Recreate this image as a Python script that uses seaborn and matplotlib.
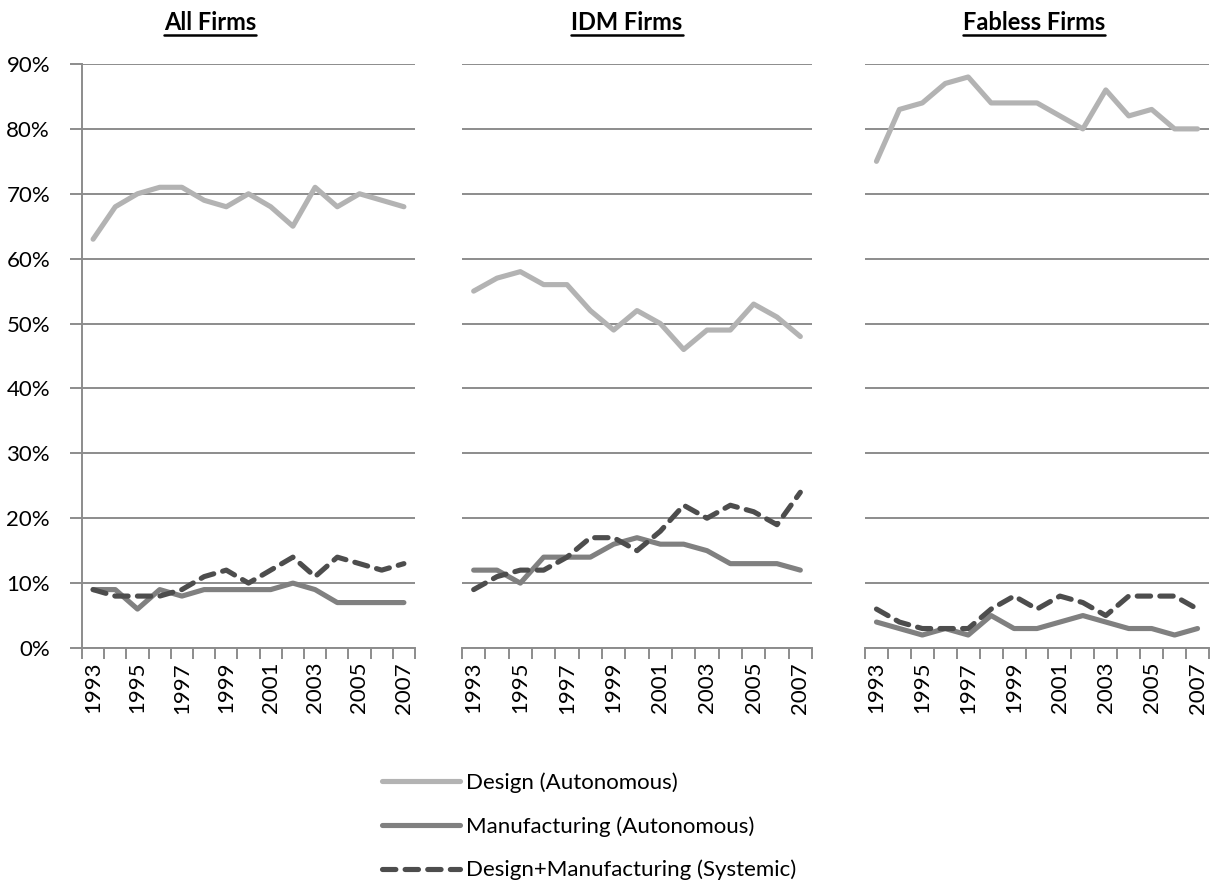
import matplotlib
matplotlib.use("Agg")
import matplotlib.pyplot as plt
import seaborn as sns
import pandas as pd
import numpy as np
from matplotlib.ticker import FixedLocator, FuncFormatter

sns.set_style("white")
plt.rcParams['font.family'] = ['Lato', 'DejaVu Sans']
plt.rcParams['text.color'] = 'black'
plt.rcParams['xtick.labelcolor'] = 'black'
plt.rcParams['ytick.labelcolor'] = 'black'

years = list(range(1993, 2008))
panels = ["All Firms", "IDM Firms", "Fabless Firms"]
series_names = ["Design (Autonomous)", "Manufacturing (Autonomous)", "Design+Manufacturing (Systemic)"]

all_design = [63, 68, 70, 71, 71, 69, 68, 70, 68, 65, 71, 68, 70, 69, 68]
all_manuf = [9, 9, 6, 9, 8, 9, 9, 9, 9, 10, 9, 7, 7, 7, 7]
all_system = [9, 8, 8, 8, 9, 11, 12, 10, 12, 14, 11, 14, 13, 12, 13]

idm_design = [55, 57, 58, 56, 56, 52, 49, 52, 50, 46, 49, 49, 53, 51, 48]
idm_manuf = [12, 12, 10, 14, 14, 14, 16, 17, 16, 16, 15, 13, 13, 13, 12]
idm_system = [9, 11, 12, 12, 14, 17, 17, 15, 18, 22, 20, 22, 21, 19, 24]

fab_design = [75, 83, 84, 87, 88, 84, 84, 84, 82, 80, 86, 82, 83, 80, 80]
fab_manuf = [4, 3, 2, 3, 2, 5, 3, 3, 4, 5, 4, 3, 3, 2, 3]
fab_system = [6, 4, 3, 3, 3, 6, 8, 6, 8, 7, 5, 8, 8, 8, 6]

data = {
    "All Firms": [all_design, all_manuf, all_system],
    "IDM Firms": [idm_design, idm_manuf, idm_system],
    "Fabless Firms": [fab_design, fab_manuf, fab_system],
}

colors = ["#b3b3b3", "#808080", "#4d4d4d"]
styles = ["-", "-", "--"]

fig = plt.figure(figsize=(12.1, 8.84), dpi=100)
W, H = 1210, 884
ax_px = [(82, 415), (462, 812), (865, 1209)]
title_cx = [210, 627, 1034]
top_px, bot_px = 64, 648

grid_c = "#8c8c8c"
FS = 16
handles = []
for i, (name, (l, r)) in enumerate(zip(panels, ax_px)):
    ax = fig.add_axes([l / W, 1 - bot_px / H, (r - l) / W, (bot_px - top_px) / H])
    x = np.arange(len(years))
    for j, (vals, sname) in enumerate(zip(data[name], series_names)):
        df = pd.DataFrame({"x": x, "y": np.array(vals) / 100.0})
        sns.lineplot(data=df, x="x", y="y", ax=ax, color=colors[j], linewidth=3.7,
                     legend=False)
        line = ax.lines[-1]
        if styles[j] == "--":
            line.set_dashes((2.6, 1.8))
            line.set_dash_capstyle("round")
        else:
            line.set_solid_capstyle("round")
            line.set_solid_joinstyle("round")
        if i == 0:
            handles.append(line)
    ax.set_xlim(-0.5, len(years) - 0.5)
    ax.set_ylim(0, 0.9)
    ax.set_yticks(np.arange(0, 0.91, 0.1))
    ax.yaxis.grid(True, color=grid_c, linewidth=1.4)
    ax.set_axisbelow(True)
    ax.set_xlabel("")
    ax.set_ylabel("")
    for s in ["top", "right"]:
        ax.spines[s].set_visible(False)
    ax.spines["bottom"].set_color(grid_c)
    ax.spines["bottom"].set_linewidth(1.4)
    if i == 0:
        ax.spines["left"].set_color(grid_c)
        ax.spines["left"].set_linewidth(1.4)
        ax.yaxis.set_major_formatter(FuncFormatter(lambda v, p: f"{v*100:.0f}%"))
        ax.tick_params(axis="y", which="major", direction="out", length=9, width=1.4,
                       color=grid_c, labelsize=FS, pad=14, left=True)
    else:
        ax.spines["left"].set_visible(False)
        ax.tick_params(axis="y", left=False, labelleft=False)
    ax.set_xticks(x[::2])
    ax.set_xticklabels([str(y) for y in years[::2]], rotation=90)
    ax.xaxis.set_minor_locator(FixedLocator(np.arange(-0.5, len(years), 1.0)))
    ax.tick_params(axis="x", which="major", length=0, labelsize=FS, pad=10, bottom=True)
    ax.tick_params(axis="x", which="minor", direction="out", length=8, width=1.4,
                   color=grid_c, bottom=True)
    t = fig.text(title_cx[i] / W, 1 - 22 / H, name, ha="center", va="center",
                 fontsize=17, fontweight="bold", color="black")
    fig.canvas.draw()
    bb = t.get_window_extent()
    fig.add_artist(plt.Line2D([bb.x0 / W, bb.x1 / W], [(bb.y0 - 1) / H, (bb.y0 - 1) / H],
                              color="black", linewidth=1.8))

fig.legend(handles, series_names, loc="upper left", bbox_to_anchor=(362 / W, 1 - 752 / H),
           frameon=False, fontsize=FS, handlelength=3.5, labelspacing=1.05, handletextpad=0.3)

fig.savefig("out.png", dpi=100)
